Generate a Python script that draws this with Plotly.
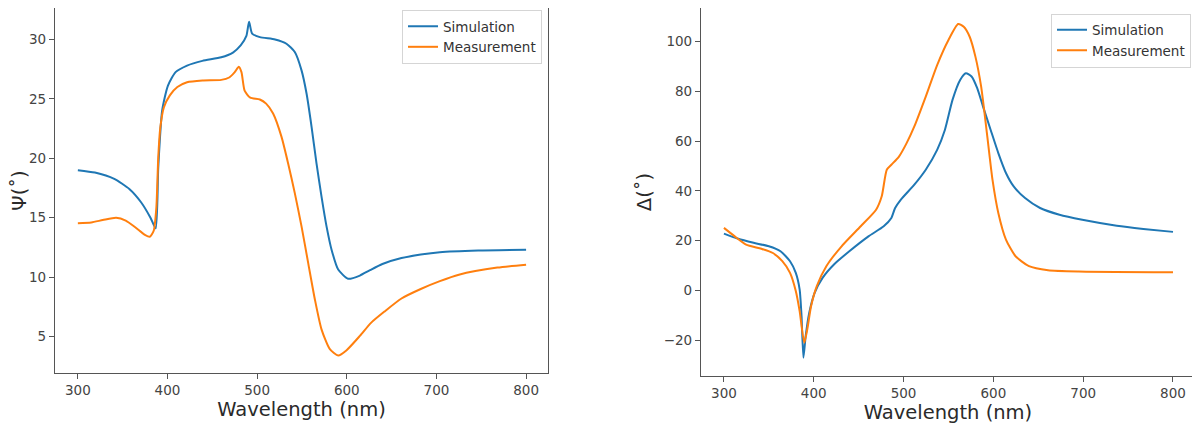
import plotly.graph_objects as go

# ---------------- Left panel: Psi ----------------
psi_sim_wl = [300, 319, 340.6, 357.7, 370.5, 381, 386.8, 389.7, 394, 400.4, 409, 421.8, 438.9, 460, 473,
              481.6, 488, 491, 494.4, 503, 520, 532.7, 542, 549.5, 555.1, 560.7, 566.2, 571.8, 577.4,
              583, 590.4, 601.5, 614.6, 625.8, 639.7, 661, 682.5, 703.8, 746.6, 800]
psi_sim = [19.0, 18.8, 18.27, 17.4, 16.3, 15.0, 14.1, 19.25, 24.0, 26.1, 27.25, 27.8, 28.2, 28.5, 28.9,
           29.5, 30.3, 31.5, 30.5, 30.2, 30.0, 29.64, 28.94, 27.4, 25.45, 22.65, 19.58, 16.78, 14.27,
           12.31, 10.64, 9.86, 10.13, 10.58, 11.1, 11.6, 11.9, 12.1, 12.24, 12.3]

psi_meas_wl = [300, 315, 327.8, 342.7, 353.4, 364, 374.8, 380.3, 384.6, 387.6, 389.7, 392, 396, 402.6,
               411, 421.8, 439, 460, 468.8, 475, 479.5, 482.5, 486, 492.3, 503, 510, 517.8, 527.2,
               534.5, 542, 549.5, 556.9, 564.4, 571.8, 581.1, 590.4, 599.8, 614.6, 627, 642,
               661, 682.5, 703.8, 725, 768, 800]
psi_meas = [14.54, 14.6, 14.8, 15.0, 14.76, 14.2, 13.56, 13.4, 13.9, 15.9, 20.1, 22.6, 24.3, 25.3,
            26.0, 26.4, 26.55, 26.6, 26.8, 27.25, 27.7, 27.25, 25.7, 25.1, 24.95, 24.6, 23.77, 21.8,
            19.58, 17.07, 14.27, 11.2, 8.12, 5.6, 3.93, 3.4, 3.85, 5.05, 6.15, 7.1,
            8.2, 9.0, 9.66, 10.2, 10.8, 11.05]

# ---------------- Right panel: Delta ----------------
del_sim_wl = [300, 316, 333, 350, 363, 373.6, 380, 384.3, 386.4, 388.5, 391, 395, 401, 409.8, 422.5,
              439.6, 460.9, 477.9, 486.4, 490.6, 497, 512, 524.7, 537.4, 546, 554.5, 563, 569.4,
              575.7, 582, 588.5, 597, 605.5, 614, 622.6, 635.3, 652, 673.6, 699, 737.4, 767, 800]
del_sim = [22.8, 20.7, 19.1, 17.7, 15.7, 11.7, 7.0, 0.3, -10.4, -27.1, -18.4, -9.0, -1.0, 5.0, 10.4,
           15.7, 21.7, 25.75, 29.1, 33.1, 36.5, 42.5, 48.5, 56.5, 64.5, 76.6, 84.6, 87.3,
           86.0, 81.3, 73.9, 64.5, 55.2, 47.2, 41.8, 37.1, 33.1, 30.4, 28.4, 26.0, 24.7, 23.5]

del_meas_wl = [300, 312, 324.7, 341.7, 354.5, 365, 373.6, 380, 384.3, 389.4, 392.8, 397, 403.4, 414,
               431, 452.3, 469.4, 475.7, 481.3, 486.4, 494.9, 503.4, 512, 524.7, 537.4, 550, 560.8,
               567, 573.6, 580, 586.4, 592.8, 599, 605.5, 614, 624.7, 639.6, 660.9, 695, 800]
del_meas = [25.1, 21.7, 18.4, 16.7, 15.0, 11.7, 7.0, -0.3, -8.4, -21.1, -15.7, -6.4, 1.7, 9.7,
            17.7, 25.75, 32.4, 37.8, 48.5, 50.5, 53.8, 59.2, 65.9, 77.9, 90.6, 100.7, 107.1,
            106.0, 102.0, 94.0, 81.9, 63.2, 44.5, 31.1, 20.4, 13.7, 9.7, 8.1, 7.6, 7.3]

series_names = ["Simulation", "Measurement"]
x_ticks = [300, 400, 500, 600, 700, 800]
psi_ticks = [5, 10, 15, 20, 25, 30]
del_ticks = [-20, 0, 20, 40, 60, 80, 100]

BLUE = "#1f77b4"
ORANGE = "#ff7f0e"
FONT = "DejaVu Sans"

line_kw = dict(width=2, shape="spline", smoothing=0.6)

fig = go.Figure()
fig.add_trace(go.Scatter(x=psi_sim_wl, y=psi_sim, mode="lines", name=series_names[0],
                         line=dict(color=BLUE, **line_kw), xaxis="x", yaxis="y", legend="legend"))
fig.add_trace(go.Scatter(x=psi_meas_wl, y=psi_meas, mode="lines", name=series_names[1],
                         line=dict(color=ORANGE, **line_kw), xaxis="x", yaxis="y", legend="legend"))
fig.add_trace(go.Scatter(x=del_sim_wl, y=del_sim, mode="lines", name=series_names[0],
                         line=dict(color=BLUE, **line_kw), xaxis="x2", yaxis="y2", legend="legend2"))
fig.add_trace(go.Scatter(x=del_meas_wl, y=del_meas, mode="lines", name=series_names[1],
                         line=dict(color=ORANGE, **line_kw), xaxis="x2", yaxis="y2", legend="legend2"))

axis_common = dict(showline=True, linecolor="#555", linewidth=1.3, mirror=True, ticks="outside",
                   ticklen=5, tickcolor="#555", showgrid=False, zeroline=False,
                   tickfont=dict(family=FONT, size=13.5, color="#444"))

title_font = dict(family=FONT, size=19.5, color="#2a2a2a")
legend_font = dict(family=FONT, size=13.5, color="#333")

fig.update_layout(
    width=1200, height=428,
    margin=dict(l=47, r=13, t=0, b=60),
    paper_bgcolor="white", plot_bgcolor="white",
    xaxis=dict(domain=[0, 0.4325], range=[274.5, 824.5], tickvals=x_ticks, automargin=False,
               title=dict(text="Wavelength (nm)", font=title_font, standoff=3), anchor="y",
               **axis_common),
    yaxis=dict(domain=[0.0082, 1], range=[1.93, 32.65], tickvals=psi_ticks, automargin=True,
               title=dict(text="Ψ(˚)", font=title_font, standoff=6), anchor="x",
               **axis_common),
    xaxis2=dict(domain=[0.5667, 1.0], range=[274.5, 824.5], tickvals=x_ticks, automargin=False,
                title=dict(text="Wavelength (nm)", font=title_font, standoff=3), anchor="y2",
                **axis_common),
    yaxis2=dict(domain=[0, 1], range=[-34.48, 113.56], tickvals=del_ticks, automargin=False,
                title=dict(text="Δ(˚)", font=title_font, standoff=6), anchor="x2",
                **axis_common),
    legend=dict(x=0.4272, y=0.9946, xanchor="right", yanchor="top",
                bgcolor="white", bordercolor="#d5d5d5", borderwidth=1, font=legend_font),
    legend2=dict(x=0.9965, y=0.985, xanchor="right", yanchor="top",
                 bgcolor="white", bordercolor="#d5d5d5", borderwidth=1, font=legend_font),
    showlegend=True,
)

fig.write_html("out.html")
